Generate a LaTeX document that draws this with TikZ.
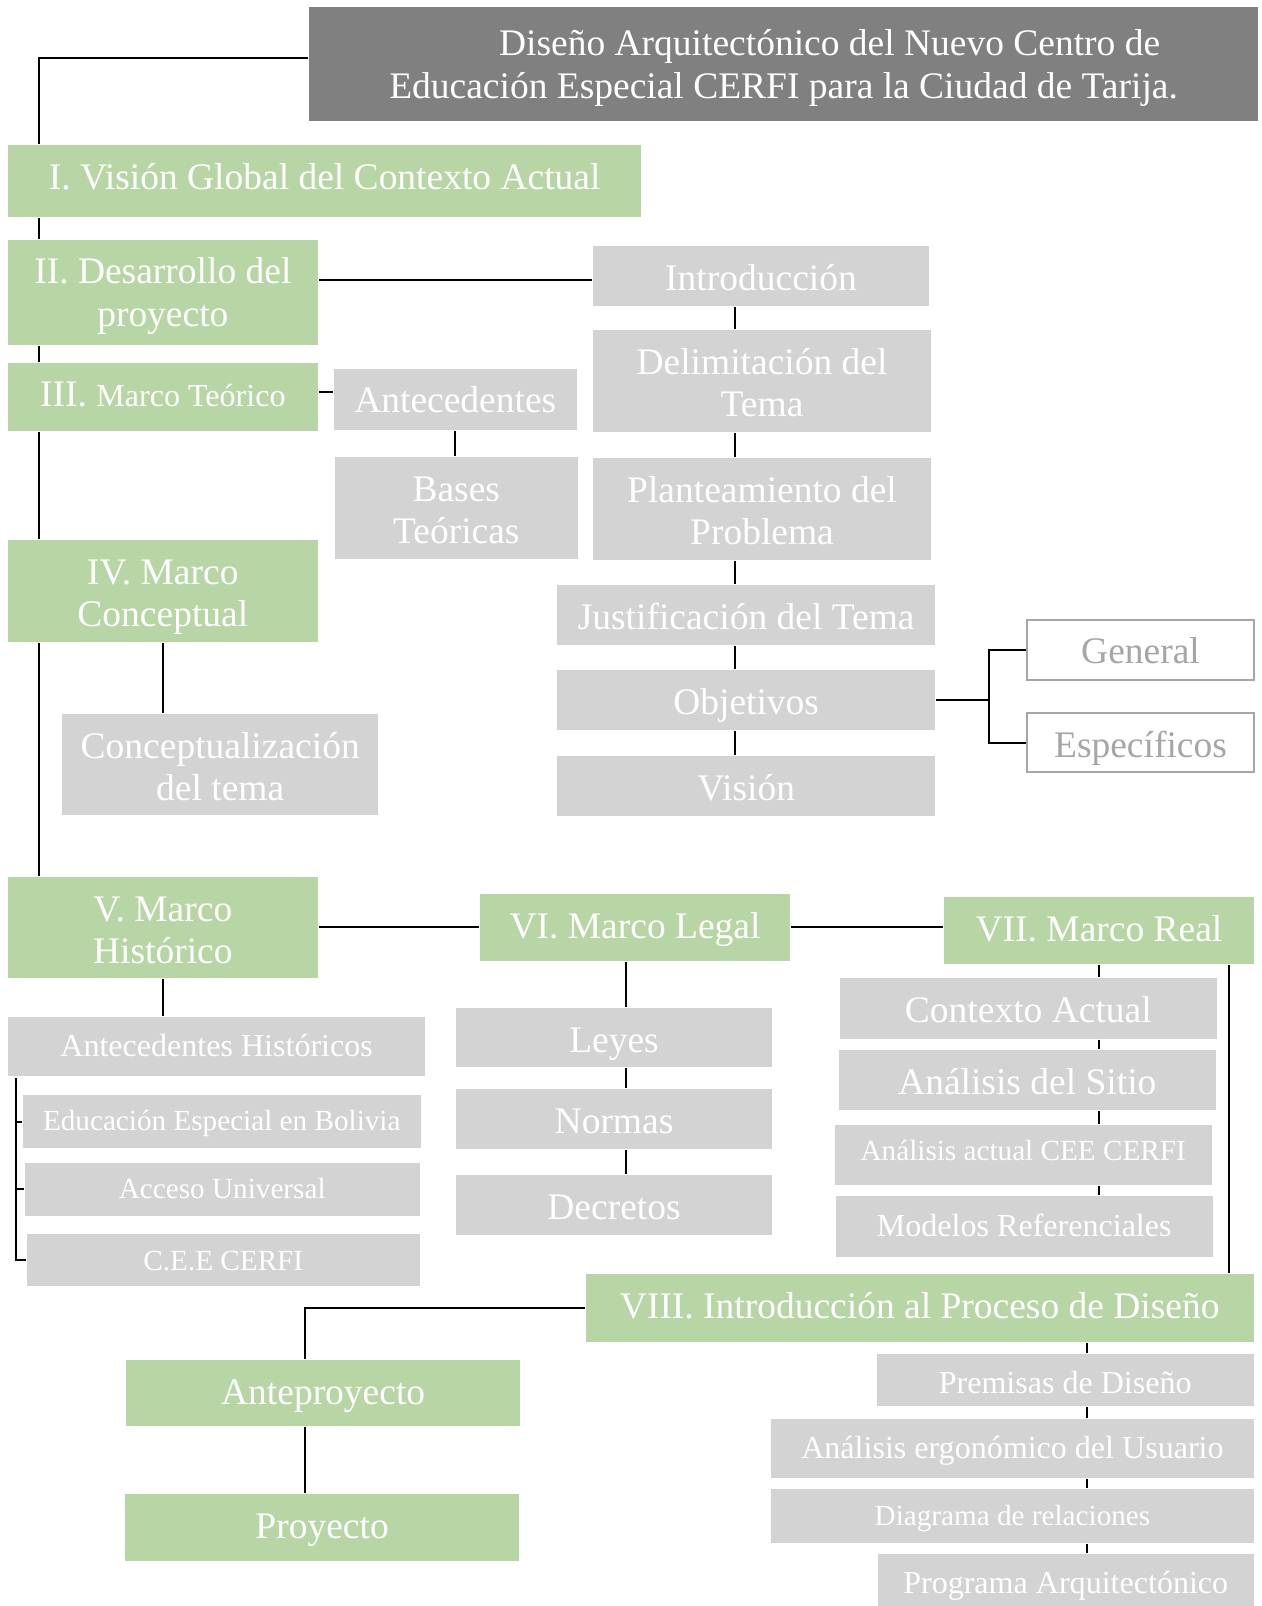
\documentclass[tikz,border=0pt]{standalone}
\usepackage{fontspec}
\setmainfont{Liberation Serif}
\definecolor{verde}{HTML}{B8D6A5}
\definecolor{gris}{HTML}{D3D3D3}
\definecolor{oscuro}{HTML}{808080}
\definecolor{borde}{HTML}{A6A6A6}
\def\tT{21.6pt}

\begin{document}
\begin{tikzpicture}[x=0.5pt,y=-0.5pt,line width=1pt,
  big/.style={font=\fontsize{18.3}{20.8}\selectfont,/utils/exec={\def\tT{21.6pt}}},
  med/.style={font=\fontsize{15.65}{18}\selectfont,/utils/exec={\def\tT{19.4pt}}},
  sml/.style={font=\fontsize{14.25}{17}\selectfont,/utils/exec={\def\tT{17.6pt}}},
  two/.style={/utils/exec={\def\tT{42.4pt}}},
  tit/.style={font=\fontsize{18.3}{21.15}\selectfont,/utils/exec={\def\tT{44.75pt}}},
  base/.style={inner sep=0pt,align=center,text=white,big},
  gbox/.style={base,fill=verde},
  hbox/.style={base,fill=gris},
  obox/.style={base,draw=borde,line width=1pt,fill=white,text=borde},
  wh/.style 2 args={minimum width=#1*0.5pt,text height=\tT,text depth=#2*0.5pt-\tT}]
\useasboundingbox (0,0) rectangle (1232,1568);
% main chapters
\node[gbox,fill=oscuro,tit,wh={926}{111}] (Titulo) at (765,62.5)
  {\hspace*{45pt}Diseño Arquitectónico del Nuevo Centro de\\
   Educación Especial CERFI para la Ciudad de Tarija.};
\node[gbox,wh={618}{70}] (Vision) at (317,177) {I. Visión Global del Contexto Actual};
\node[gbox,two,wh={302}{103}] (Desarrollo) at (159,285.5) {II. Desarrollo del\\proyecto};
\node[gbox,wh={302}{67}] (Teorico) at (159,387.5)
  {III. {\fontsize{15.65}{18}\selectfont Marco Teórico}};
\node[gbox,two,wh={302}{100}] (Conceptual) at (159,577) {IV. Marco\\Conceptual};
\node[gbox,two,wh={302}{99}] (Historico) at (159,905.5) {V. Marco\\Histórico};
\node[gbox,wh={302}{65}] (Legal) at (620,905.5) {VI. Marco Legal};
\node[gbox,wh={302}{65}] (Real) at (1073,908.5) {VII. Marco Real};
\node[gbox,wh={652}{66}] (Diseno) at (898,1277) {VIII. Introducción al Proceso de Diseño};
\node[gbox,wh={385}{64}] (Anteproyecto) at (315.5,1360) {Anteproyecto};
\node[gbox,wh={385}{65}] (Proyecto) at (314.5,1491.5) {Proyecto};
% II and III
\node[hbox,wh={328}{59}] (Introduccion) at (743,269.5) {Introducción};
\node[hbox,two,wh={330}{100}] (Delimitacion) at (744,372) {Delimitación del\\Tema};
\node[hbox,two,wh={330}{100}] (Planteamiento) at (744,497) {Planteamiento del\\Problema};
\node[hbox,wh={369}{59}] (Justificacion) at (728.5,600.5) {Justificación del Tema};
\node[hbox,wh={369}{59}] (Objetivos) at (728.5,683.5) {Objetivos};
\node[hbox,wh={369}{59}] (VisionT) at (728.5,767.5) {Visión};
\node[obox,wh={221}{59}] (General) at (1113.5,634.5) {General};
\node[obox,wh={221}{58}] (Especificos) at (1113.5,725) {Específicos};
\node[hbox,wh={237}{60}] (Antecedentes) at (444.5,390) {Antecedentes};
\node[hbox,two,wh={237}{100}] (Bases) at (445.5,496) {Bases\\Teóricas};
\node[hbox,two,wh={308}{99}] (Conceptualizacion) at (215,746.5) {Conceptualización\\del tema};
% V, VI and VII
\node[hbox,med,wh={407}{58}] (AntHist) at (211.5,1022) {Antecedentes Históricos};
\node[hbox,sml,wh={389}{52}] (Bolivia) at (216.5,1095) {Educación Especial en Bolivia};
\node[hbox,sml,wh={386}{52}] (Acceso) at (217,1161) {Acceso Universal};
\node[hbox,sml,wh={384}{51}] (CEE) at (218,1230.5) {C.E.E CERFI};
\node[hbox,wh={309}{58}] (Leyes) at (599.5,1013) {Leyes};
\node[hbox,wh={309}{59}] (Normas) at (599.5,1092.5) {Normas};
\node[hbox,wh={309}{59}] (Decretos) at (599.5,1176.5) {Decretos};
\node[hbox,wh={368}{59}] (Contexto) at (1004,984.5) {Contexto Actual};
\node[hbox,wh={368}{59}] (Sitio) at (1003,1054.5) {Análisis del Sitio};
\node[hbox,sml,wh={368}{59}] (CERFI) at (999,1127.5) {Análisis actual CEE CERFI};
\node[hbox,med,wh={368}{59}] (Modelos) at (1000,1197.5) {Modelos Referenciales};
% VIII
\node[hbox,med,wh={368}{51}] (Premisas) at (1040,1347.5) {Premisas de Diseño};
\node[hbox,med,wh={471}{58}] (Ergonomico) at (988.5,1414) {Análisis ergonómico del Usuario};
\node[hbox,sml,wh={471}{52}] (Diagrama) at (988.5,1480) {Diagrama de relaciones};
\node[hbox,med,wh={367}{51}] (Programa) at (1040.5,1542.5) {Programa Arquitectónico};
% bends of the connectors
\coordinate (s0) at (38,57);
\coordinate (cb) at (16,0);
\coordinate (cc) at (718,0);
\coordinate (cf) at (966,0);
\coordinate (cl) at (611,0);
\coordinate (cr) at (1200,0);
\coordinate (cp) at (1061,0);
\coordinate (ca) at (298,0);
\begin{scope}[black]
\draw (Titulo.west |- s0) -- (s0) -- (s0 |- Vision.north);
\draw (Vision.south -| s0) -- (Desarrollo.north -| s0);
\draw (Desarrollo.south -| s0) -- (Teorico.north -| s0);
\draw (Teorico.south -| s0) -- (Conceptual.north -| s0);
\draw (Conceptual.south -| s0) -- (Historico.north -| s0);
\draw ([yshift=-1.75pt]Introduccion.west) -- ([yshift=-1.75pt]Introduccion.west -| Desarrollo.east);
\draw ([yshift=2.25pt]Teorico.east) -- ([yshift=2.25pt]Teorico.east -| Antecedentes.west);
\draw (Antecedentes.south) -- (Antecedentes.south |- Bases.north);
\draw (Introduccion.south -| cc) -- (Delimitacion.north -| cc);
\draw (Delimitacion.south -| cc) -- (Planteamiento.north -| cc);
\draw (Planteamiento.south -| cc) -- (Justificacion.north -| cc);
\draw (Justificacion.south -| cc) -- (Objetivos.north -| cc);
\draw (Objetivos.south -| cc) -- (VisionT.north -| cc);
\draw (Objetivos.east) -- (Objetivos.east -| cf);
\draw (General.west) -- (General.west -| cf) -- (Especificos.west -| cf) -- (Especificos.west);
\draw (Conceptual.south) -- (Conceptual.south |- Conceptualizacion.north);
\draw (Historico.east) -- (Historico.east -| Legal.west);
\draw (Legal.east) -- (Legal.east -| Real.west);
\draw (Historico.south) -- (Historico.south |- AntHist.north);
\draw (AntHist.south -| cb) -- (CEE.west -| cb) -- (CEE.west);
\draw (Bolivia.west -| cb) -- (Bolivia.west);
\draw (Acceso.west -| cb) -- (Acceso.west);
\draw (Legal.south -| cl) -- (Leyes.north -| cl);
\draw (Leyes.south -| cl) -- (Normas.north -| cl);
\draw (Normas.south -| cl) -- (Decretos.north -| cl);
\draw (Real.south) -- (Real.south |- Contexto.north);
\draw (Contexto.south -| Real.south) -- (Sitio.north -| Real.south);
\draw (Sitio.south -| Real.south) -- (CERFI.north -| Real.south);
\draw (CERFI.south -| Real.south) -- (Modelos.north -| Real.south);
\draw (Real.south -| cr) -- (Diseno.north -| cr);
\draw (Diseno.west) -| (Anteproyecto.north -| ca);
\draw (Anteproyecto.south -| ca) -- (Proyecto.north -| ca);
\draw (Diseno.south -| cp) -- (Premisas.north -| cp);
\draw (Premisas.south -| cp) -- (Ergonomico.north -| cp);
\draw (Ergonomico.south -| cp) -- (Diagrama.north -| cp);
\draw (Diagrama.south -| cp) -- (Programa.north -| cp);
\end{scope}
\end{tikzpicture}
\end{document}
